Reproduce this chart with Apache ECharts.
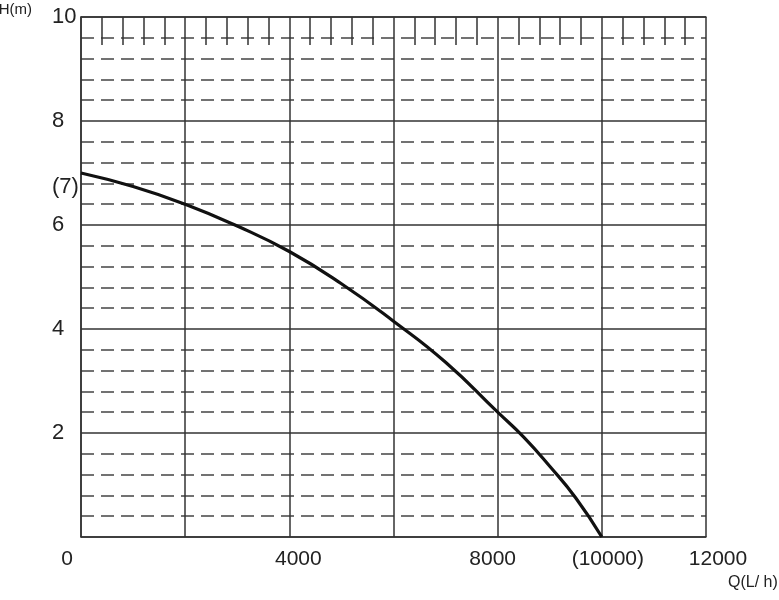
<!DOCTYPE html>
<html>
<head>
<meta charset="utf-8">
<script src="https://cdn.jsdelivr.net/npm/echarts@6/dist/echarts.min.js"></script>
<style>
html,body{margin:0;padding:0;background:#fff;}
#c{width:779px;height:600px;}
</style>
</head>
<body>
<div id="c"></div>
<script>
// Data
var flowQ = [0, 1000, 2000, 3000, 4000, 5000, 6000, 7000, 8000, 8500, 9000, 9500, 10000];
var headH = [7.0, 6.74, 6.40, 5.98, 5.49, 4.87, 4.15, 3.36, 2.40, 1.92, 1.36, 0.75, 0];
var xTickLabels = {0: '0', 4000: '4000', 8000: '8000', 10000: '(10000)', 12000: '12000'};
var yTickLabels = {2: '2', 4: '4', 6: '6', 8: '8', 10: '10'};
var yExtraLabels = {7: '(7)'};

var FONT = '"Liberation Sans", Arial, sans-serif';
var TXT = '#222';
var points = flowQ.map(function (q, i) { return [q, headH[i]]; });

function rs(pad) { return {fontFamily: FONT, fontSize: 21, color: TXT, padding: pad}; }

var chart = echarts.init(document.getElementById('c'), null, {renderer: 'canvas'});
chart.setOption({
  animation: false,
  backgroundColor: '#fff',
  grid: {left: 81, right: 73, top: 17, bottom: 63, containLabel: false, outerBoundsMode: 'none'},
  xAxis: [{
    type: 'value', position: 'bottom', min: 0, max: 12000, interval: 2000,
    name: 'Q(L/ h)', nameLocation: 'end', nameGap: 22, nameMoveOverlap: false,
    nameTextStyle: {fontFamily: FONT, fontSize: 16, color: TXT, align: 'left', verticalAlign: 'top', lineHeight: 92},
    axisLine: {show: true, onZero: false, lineStyle: {color: '#333', width: 1.5}},
    axisTick: {show: false},
    splitLine: {show: true, lineStyle: {color: '#333', width: 1.5, type: 'solid'}},
    axisLabel: {
      margin: 12, fontFamily: FONT, fontSize: 21, color: TXT,
      formatter: function (v) {
        var t = xTickLabels[v];
        if (t === undefined) return '';
        if (v === 0) return '{l|' + t + '}';
        if (v === 4000) return '{r9|' + t + '}';
        if (v === 8000) return '{l7|' + t + '}';
        if (v === 10000) return '{r7|' + t + '}';
        return '{r14|' + t + '}';
      },
      rich: {
        l: rs([0, 28, 0, 0]),
        l7: rs([0, 10, 0, 0]),
        r9: rs([0, 0, 0, 18]),
        r7: rs([0, 0, 0, 12]),
        r14: rs([0, 0, 0, 24])
      }
    }
  }, {
    type: 'value', position: 'top', min: 0, max: 12000, interval: 2000,
    axisLine: {show: true, onZero: false, lineStyle: {color: '#333', width: 1.5}},
    axisTick: {show: false, inside: true},
    minorTick: {show: true, splitNumber: 5, length: 28, lineStyle: {color: '#333', width: 1.5}},
    axisLabel: {show: false},
    splitLine: {show: false}
  }],
  yAxis: [{
    type: 'value', position: 'left', min: 0, max: 10, interval: 2,
    name: 'H(m)', nameLocation: 'end', nameGap: 7,
    nameTextStyle: {fontFamily: FONT, fontSize: 15, color: TXT, align: 'right', verticalAlign: 'middle', padding: [0, 49, 0, 0]},
    axisLine: {show: true, onZero: false, lineStyle: {color: '#333', width: 1.5}},
    axisTick: {show: false},
    minorTick: {show: false, splitNumber: 5},
    splitLine: {show: true, lineStyle: {color: '#333', width: 1.5, type: 'solid'}},
    minorSplitLine: {show: true, lineStyle: {color: '#444', width: 1.5, type: [13, 7]}},
    axisLabel: {
      align: 'left', margin: 29, fontFamily: FONT, fontSize: 22, color: TXT,
      formatter: function (v) { return yTickLabels[v] || ''; }
    }
  }, {
    type: 'value', position: 'left', min: 0, max: 10, interval: 1,
    axisLine: {show: false, onZero: false}, axisTick: {show: false}, splitLine: {show: false},
    axisLabel: {
      align: 'left', verticalAlign: 'top', margin: 29, fontFamily: FONT, fontSize: 22, color: TXT,
      lineHeight: 28,
      formatter: function (v) { return yExtraLabels[v] || ''; }
    }
  }],
  series: [{
    type: 'line', xAxisIndex: 0, yAxisIndex: 0,
    data: points, smooth: 0.5, showSymbol: false, symbol: 'none',
    lineStyle: {color: '#111', width: 3.2}
  }]
});
</script>
</body>
</html>
